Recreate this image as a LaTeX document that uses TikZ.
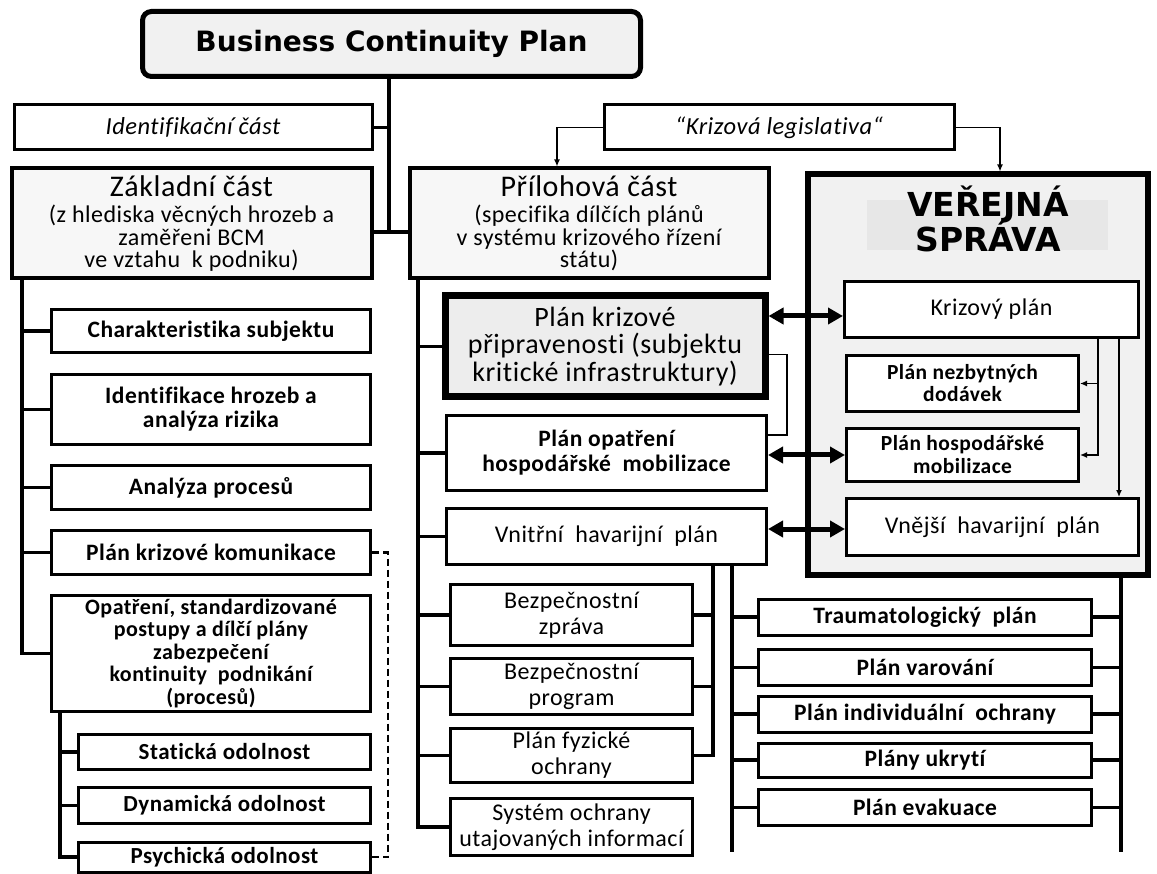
\documentclass[tikz,border=0pt]{standalone}
\usepackage{fontspec}
\setmainfont{Carlito}[LetterSpace=2, Ligatures=NoCommon]
\newfontfamily\headfont{DejaVu Sans}
\usetikzlibrary{arrows.meta}

\begin{document}
\begin{tikzpicture}[x=1pt,y=-1pt,
		box/.style={draw, line width=3pt, fill=white, inner sep=0pt, align=center, font=\bfseries\fontsize{23.5}{24}\selectfont},
		plainbox/.style={box, font=\fontsize{24}{26}\selectfont},
		part/.style={box, line width=4pt, fill=partgray, minimum width=359pt, minimum height=110pt, font=\fontsize{24}{22.5}\selectfont},
		vshead/.style={anchor=base, inner sep=0pt, font=\headfont\bfseries\fontsize{33}{36}\selectfont},
		link/.style={line width=3.5pt},
		thinlink/.style={line width=1.3pt},
		smallarrow/.style={thinlink, -{Latex[length=7pt,width=6pt]}},
		bigarrow/.style={line width=5pt, {Triangle[length=15pt,width=16pt]}-{Triangle[length=15pt,width=16pt]}}]
	\colorlet{partgray}{gray!6}
	\colorlet{marble}{gray!11}
	\colorlet{bandgray}{gray!19}
	\colorlet{grain}{gray!14}
	\useasboundingbox (0,0) rectangle (1157,874);

	% top
	\node (title) at (391.5,44) [box, rounded corners=9pt, line width=5pt, fill=marble, minimum width=498pt, minimum height=65pt, font=\headfont\bfseries\fontsize{28}{30}\selectfont] {Business Continuity Plan};
	\node (ident) at (193,127.5) [box, minimum width=358pt, minimum height=45pt, font=\itshape\fontsize{24.5}{24}\selectfont] {Identifikační část};
	\node (legis) at (779,127.5) [box, minimum width=350pt, minimum height=45pt, font=\itshape\fontsize{24.5}{24}\selectfont] {“Krizová legislativa“};
	\node (zakl) at (191.5,223.5) [part, minimum width=360pt] {{\fontsize{30}{28}\selectfont Základní část}\\[4pt](z hlediska věcných hrozeb a\\zaměřeni BCM\\ve vztahu\ \ k podniku)};
	\node (pril) at (589,223.5) [part] {{\fontsize{30}{28}\selectfont Přílohová část}\\[4pt](specifika dílčích plánů\\v systému krizového řízení\\státu)};

	% verejna sprava
	\node (vs) at (977.5,374.5) [box, line width=6pt, fill=marble, minimum width=340pt, minimum height=400pt] {};
	\node (vsband) at (987.5,225) [fill=bandgray, minimum width=241pt, minimum height=50pt, inner sep=0pt] {};
	\node (vsline1) at (988,217) [vshead] {VEŘEJNÁ};
	\node (vsline2) at (988,252) [vshead] {SPRÁVA};
	\node (kp) at (991.5,309.5) [plainbox, minimum width=294pt, minimum height=56pt] {Krizový plán};
	\node (pnd) at (962.5,383.5) [box, minimum width=232pt, minimum height=56pt, font=\bfseries\fontsize{21.5}{22}\selectfont] {Plán nezbytných\\dodávek};
	\node (phm) at (962.5,455) [box, minimum width=232pt, minimum height=53pt, font=\bfseries\fontsize{21.5}{23}\selectfont] {Plán hospodářské\\mobilizace};
	\node (vhp) at (992.5,527) [plainbox, minimum width=292pt, minimum height=57pt] {Vnější\ \ havarijní\ \ plán};

	% middle column
	\node (pkp) at (605,346.5) [box, line width=7pt, fill=grain, minimum width=320pt, minimum height=101pt, font=\fontsize{28}{27.5}\selectfont] {Plán krizové\\připravenosti (subjektu\\kritické infrastruktury)};
	\node (pohm) at (606.5,453) [box, minimum width=320pt, minimum height=75pt, font=\bfseries\fontsize{23.5}{25}\selectfont] {Plán opatření\\hospodářské\ \ mobilizace};
	\node (vnhp) at (606.5,536.5) [plainbox, minimum width=320pt, minimum height=56pt] {Vnitřní\ \ havarijní\ \ plán};
	\node (bzpr) at (571.5,615) [plainbox, minimum width=242pt, minimum height=61pt] {Bezpečnostní\\zpráva};
	\node (bzpg) at (571.5,686.5) [plainbox, minimum width=242pt, minimum height=56pt] {Bezpečnostní\\program};
	\node (pfo) at (571.5,755.5) [plainbox, minimum width=242pt, minimum height=54pt] {Plán fyzické\\ochrany};
	\node (sou) at (571.5,827) [plainbox, minimum width=242pt, minimum height=57pt] {Systém ochrany\\utajovaných informací};

	% right lower column
	\node (trau) at (925,617) [box, minimum width=333pt, minimum height=36pt] {Traumatologický\ \ plán};
	\node (varo) at (925,667.5) [box, minimum width=333pt, minimum height=36pt] {Plán varování};
	\node (indiv) at (925,714) [box, minimum width=333pt, minimum height=36pt] {Plán individuální\ \ ochrany};
	\node (ukryt) at (925,760) [box, minimum width=333pt, minimum height=34pt] {Plány ukrytí};
	\node (evak) at (925,807.5) [box, minimum width=333pt, minimum height=36pt] {Plán evakuace};

	% left column
	\node (chars) at (211,331) [box, minimum width=319pt, minimum height=43pt] {Charakteristika subjektu};
	\node (ihar) at (211,409.5) [box, minimum width=319pt, minimum height=70pt] {Identifikace hrozeb a\\analýza rizika};
	\node (apro) at (211,487.5) [box, minimum width=319pt, minimum height=44pt] {Analýza procesů};
	\node (pkk) at (211,552.5) [box, minimum width=319pt, minimum height=44pt] {Plán krizové komunikace};
	\node (opat) at (211,653.5) [box, minimum width=319pt, minimum height=116pt, font=\bfseries\fontsize{22}{22.5}\selectfont] {Opatření, standardizované\\postupy a dílčí plány\\zabezpečení\\kontinuity\ \ podnikání\\(procesů)};
	\node (stat) at (224.5,752) [box, minimum width=292pt, minimum height=35pt, font=\bfseries\fontsize{23}{24}\selectfont] {Statická odolnost};
	\node (dyn) at (224.5,805.5) [box, minimum width=292pt, minimum height=36pt, font=\bfseries\fontsize{23}{24}\selectfont] {Dynamická odolnost};
	\node (psych) at (224.5,857) [box, minimum width=292pt, minimum height=30pt, font=\bfseries\fontsize{23}{24}\selectfont] {Psychická odolnost};

	% spines
	\coordinate (hub) at (389,232);
	\coordinate (lspine) at (22,0);
	\coordinate (sspine) at (60,0);
	\coordinate (dashx) at (388,0);
	\coordinate (mspine) at (418,0);
	\coordinate (ispine) at (713,0);
	\coordinate (lowl) at (732,852);
	\coordinate (lowr) at (1121,852);
	\coordinate (legl) at (557,0);
	\coordinate (legr) at (1000,0);
	\coordinate (loopx) at (787,0);
	\coordinate (tl) at (1098,0);
	\coordinate (tr) at (1119,0);
	\coordinate (a1) at (0,316);
	\coordinate (a2) at (0,455);
	\coordinate (a3) at (0,529);

	\draw[link] (title.south -| hub) -- (hub);
	\draw[link] (ident.east) -- (ident.east -| hub);
	\draw[link] (zakl.east |- hub) -- (pril.west |- hub);
	\draw[smallarrow] (legis.west) -| (legl |- pril.north);
	\draw[smallarrow] (legis.east) -| (legr |- vs.north);

	\draw[link] (zakl.south -| lspine) |- (opat.west);
	\foreach \n in {chars,ihar,apro,pkk}
		\draw[link] (\n.west) -- (\n.west -| lspine);
	\draw[link] (opat.south -| sspine) |- (psych.west);
	\foreach \n in {stat,dyn}
		\draw[link] (\n.west) -- (\n.west -| sspine);
	\draw[line width=2.5pt, dash pattern=on 7pt off 4pt] (pkk.east) -- (pkk.east -| dashx) |- (psych.east);

	\draw[link] (pril.south -| mspine) |- (sou.west);
	\foreach \n in {pkp,pohm,vnhp,bzpr,bzpg,pfo}
		\draw[link] (\n.west) -- (\n.west -| mspine);
	\draw[link] (vnhp.south -| ispine) |- (pfo.east);
	\foreach \n in {bzpr,bzpg}
		\draw[link] (\n.east) -- (\n.east -| ispine);
	\draw[link] (vnhp.south -| lowl) -- (lowl);
	\draw[link] (vs.south -| lowr) -- (lowr);
	\foreach \n in {trau,varo,indiv,ukryt,evak} {
		\draw[link] (\n.west) -- (\n.west -| lowl);
		\draw[link] (\n.east) -- (\n.east -| lowr);
	}

	\draw[thinlink] ([yshift=-8pt]pkp.east) -| ([yshift=18pt]pohm.east -| loopx) -- ([yshift=18pt]pohm.east);
	\draw[bigarrow] (a1 -| pkp.east) -- (a1 -| kp.west);
	\draw[bigarrow] (a2 -| pohm.east) -- (a2 -| phm.west);
	\draw[bigarrow] (a3 -| vnhp.east) -- (a3 -| vhp.west);
	\draw[smallarrow] (kp.south -| tl) |- (phm.east);
	\draw[smallarrow] (pnd.east -| tl) -- (pnd.east);
	\draw[smallarrow] (kp.south -| tr) -- (vhp.north -| tr);
\end{tikzpicture}
\end{document}
